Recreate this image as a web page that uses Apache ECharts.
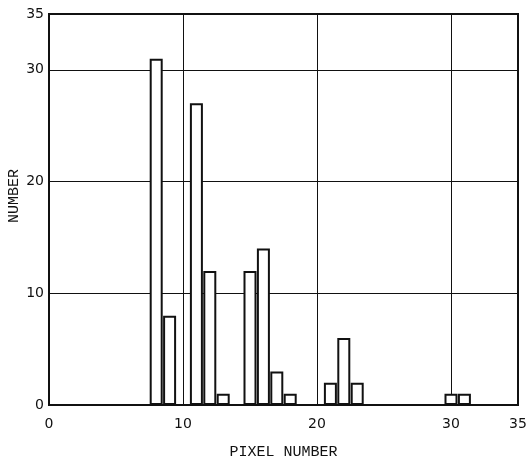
<!DOCTYPE html>
<html lang="en">
<head>
    <meta charset="UTF-8">
    <title>Pixel number histogram</title>
    <script type="text/javascript" src="https://cdn.jsdelivr.net/npm/echarts@6/dist/echarts.min.js"></script>
    <style>
        html, body { margin: 0; padding: 0; background: #fff; }
        #chart { width: 528px; height: 462px; }
    </style>
</head>
<body>
<div id="chart"></div>
<script type="text/javascript">
    var pixels = [8, 9, 11, 12, 13, 15, 16, 17, 18, 21, 22, 23, 30, 31];
    var counts = [31, 8, 27, 12, 1, 12, 14, 3, 1, 2, 6, 2, 1, 1];
    var xTicks = [0, 10, 20, 30, 35];
    var yTicks = [0, 10, 20, 30, 35];

    var barData = [];
    for (var i = 0; i < pixels.length; i++) {
        barData.push([pixels[i], counts[i]]);
    }

    var font = '"Liberation Mono", "DejaVu Sans Mono", monospace';
    var tickFont = '"DejaVu Sans", sans-serif';

    var mychart = echarts.init(document.getElementById("chart"));
    var option = {
        animation: false,
        backgroundColor: '#fff',
        grid: {
            left: 49, right: 10, top: 14, bottom: 57,
            outerBoundsMode: 'none',
            containLabel: false,
            show: true,
            borderColor: '#111',
            borderWidth: 2
        },
        xAxis: {
            type: 'value',
            min: xTicks[0],
            max: xTicks[xTicks.length - 1],
            interval: 10,
            name: 'PIXEL NUMBER',
            nameLocation: 'middle',
            nameGap: 40,
            nameTextStyle: { color: '#111', fontSize: 15, fontFamily: font },
            axisLine: { lineStyle: { color: '#111', width: 2 } },
            axisTick: { show: false },
            axisLabel: { color: '#111', fontSize: 14, fontFamily: tickFont, margin: 12 },
            splitLine: { show: true, lineStyle: { color: '#111', width: 1 } }
        },
        yAxis: {
            type: 'value',
            min: yTicks[0],
            max: yTicks[yTicks.length - 1],
            interval: 10,
            name: 'NUMBER',
            nameLocation: 'middle',
            nameGap: 27,
            nameMoveOverlap: false,
            nameTextStyle: { color: '#111', fontSize: 15, fontFamily: font, padding: [0, 0, 0, 27] },
            axisLine: { lineStyle: { color: '#111', width: 2 } },
            axisTick: { show: false },
            axisLabel: { color: '#111', fontSize: 14, fontFamily: tickFont, margin: 5 },
            splitLine: { show: true, lineStyle: { color: '#111', width: 1 } }
        },
        series: [{
            type: 'bar',
            data: barData,
            barWidth: 13,
            itemStyle: { color: '#fff', borderColor: '#111', borderWidth: 2 }
        }]
    };
    mychart.setOption(option);
</script>
</body>
</html>
